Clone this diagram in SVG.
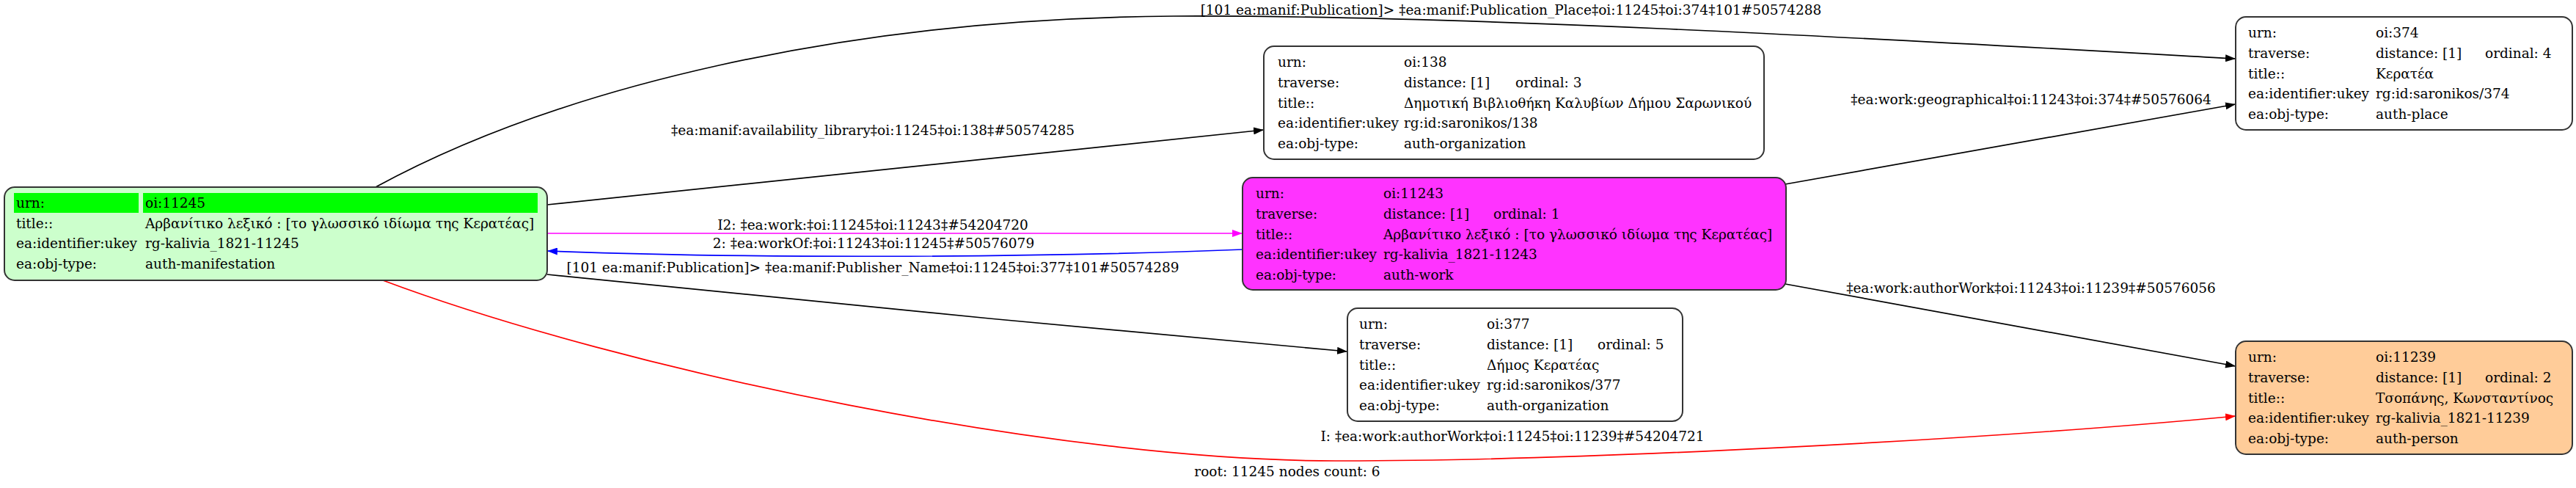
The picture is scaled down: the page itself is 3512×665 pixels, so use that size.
<svg xmlns="http://www.w3.org/2000/svg" width="3512" height="665" viewBox="0 0 3512 665">
<style>
text{font-family:"DejaVu Serif","Liberation Serif",serif;font-size:18.5px;fill:#000}
.lbl{text-anchor:middle}
.box{stroke:#333;stroke-width:2}
.e{fill:none;stroke-width:1.7}
</style>
<defs>
<marker id="ak" markerUnits="userSpaceOnUse" viewBox="0 0 14 10" markerWidth="14" markerHeight="10" refX="14" refY="5" orient="auto"><path d="M0,0L14,5L0,10z" fill="#000"/></marker>
<marker id="am" markerUnits="userSpaceOnUse" viewBox="0 0 14 10" markerWidth="14" markerHeight="10" refX="14" refY="5" orient="auto"><path d="M0,0L14,5L0,10z" fill="#ff00ff"/></marker>
<marker id="ab" markerUnits="userSpaceOnUse" viewBox="0 0 14 10" markerWidth="14" markerHeight="10" refX="14" refY="5" orient="auto"><path d="M0,0L14,5L0,10z" fill="#0000ff"/></marker>
<marker id="ar" markerUnits="userSpaceOnUse" viewBox="0 0 14 10" markerWidth="14" markerHeight="10" refX="14" refY="5" orient="auto"><path d="M0,0L14,5L0,10z" fill="#ff0000"/></marker>
</defs>
<rect width="3512" height="665" fill="#fff"/>
<g id="connectors">
<path class="e" stroke="#000" marker-end="url(#ak)" d="M512,255C760,120 1150,25 1600,22C2000,20 2600,55 3048,80"/>
<text class="lbl" x="2060" y="20">[101 ea:manif:Publication]&gt; ‡ea:manif:Publication_Place‡oi:11245‡oi:374‡101#50574288</text>
<path class="e" stroke="#000" marker-end="url(#ak)" d="M746,279L1723,177"/>
<text class="lbl" x="1190" y="184">‡ea:manif:availability_library‡oi:11245‡oi:138‡#50574285</text>
<path class="e" stroke="#ff00ff" marker-end="url(#am)" d="M746,318L1694,318"/>
<text class="lbl" x="1190" y="313">I2: ‡ea:work:‡oi:11245‡oi:11243‡#54204720</text>
<path class="e" stroke="#0000ff" marker-end="url(#ab)" d="M1694,340C1400,352 1000,352 746,342"/>
<text class="lbl" x="1191" y="338">2: ‡ea:workOf:‡oi:11243‡oi:11245‡#50576079</text>
<path class="e" stroke="#000" marker-end="url(#ak)" d="M746,374C1050,405 1500,450 1837,479"/>
<text class="lbl" x="1190" y="371">[101 ea:manif:Publication]&gt; ‡ea:manif:Publisher_Name‡oi:11245‡oi:377‡101#50574289</text>
<path class="e" stroke="#000" marker-end="url(#ak)" d="M2434,251L3048,142"/>
<text class="lbl" x="2769" y="142">‡ea:work:geographical‡oi:11243‡oi:374‡#50576064</text>
<path class="e" stroke="#000" marker-end="url(#ak)" d="M2434,387L3048,499"/>
<text class="lbl" x="2769" y="399">‡ea:work:authorWork‡oi:11243‡oi:11239‡#50576056</text>
<path class="e" stroke="#ff0000" marker-end="url(#ar)" d="M522,382C850,505 1450,630 1830,628C2150,628 2700,600 3048,567"/>
<text class="lbl" x="2062" y="601">I: ‡ea:work:authorWork‡oi:11245‡oi:11239‡#54204721</text>
</g>
<g id="n11245">
<rect class="box" x="6" y="255" width="740" height="127" rx="14" fill="#ccffcc"/>
<rect x="19" y="263" width="170" height="27" fill="#00ff00"/>
<rect x="195" y="263" width="538" height="27" fill="#00ff00"/>
<text x="22" y="283">urn:</text><text x="198" y="283">oi:11245</text>
<text x="22" y="311">title::</text><text x="198" y="311">Αρβανίτικο λεξικό : [το γλωσσικό ιδίωμα της Κερατέας]</text>
<text x="22" y="338">ea:identifier:ukey</text><text x="198" y="338">rg-kalivia_1821-11245</text>
<text x="22" y="366">ea:obj-type:</text><text x="198" y="366">auth-manifestation</text>
</g>
<g id="n11243">
<rect class="box" x="1694" y="242" width="741" height="153" rx="14" fill="#ff33ff"/>
<text x="1712" y="270">urn:</text><text x="1886" y="270">oi:11243</text>
<text x="1712" y="298">traverse:</text><text x="1886" y="298">distance: [1]<tspan x="2036">ordinal: 1</tspan></text>
<text x="1712" y="326">title::</text><text x="1886" y="326">Αρβανίτικο λεξικό : [το γλωσσικό ιδίωμα της Κερατέας]</text>
<text x="1712" y="353">ea:identifier:ukey</text><text x="1886" y="353">rg-kalivia_1821-11243</text>
<text x="1712" y="381">ea:obj-type:</text><text x="1886" y="381">auth-work</text>
</g>
<g id="n138">
<rect class="box" x="1723" y="63" width="682" height="154" rx="14" fill="#fff"/>
<text x="1742" y="91">urn:</text><text x="1914" y="91">oi:138</text>
<text x="1742" y="119">traverse:</text><text x="1914" y="119">distance: [1]<tspan x="2066">ordinal: 3</tspan></text>
<text x="1742" y="147">title::</text><text x="1914" y="147">Δημοτική Βιβλιοθήκη Καλυβίων Δήμου Σαρωνικού</text>
<text x="1742" y="174">ea:identifier:ukey</text><text x="1914" y="174">rg:id:saronikos/138</text>
<text x="1742" y="202">ea:obj-type:</text><text x="1914" y="202">auth-organization</text>
</g>
<g id="n377">
<rect class="box" x="1837" y="420" width="457" height="154" rx="14" fill="#fff"/>
<text x="1853" y="448">urn:</text><text x="2027" y="448">oi:377</text>
<text x="1853" y="476">traverse:</text><text x="2027" y="476">distance: [1]<tspan x="2178">ordinal: 5</tspan></text>
<text x="1853" y="504">title::</text><text x="2027" y="504">Δήμος Κερατέας</text>
<text x="1853" y="531">ea:identifier:ukey</text><text x="2027" y="531">rg:id:saronikos/377</text>
<text x="1853" y="559">ea:obj-type:</text><text x="2027" y="559">auth-organization</text>
</g>
<g id="n374">
<rect class="box" x="3048" y="23" width="459" height="154" rx="14" fill="#fff"/>
<text x="3065" y="51">urn:</text><text x="3239" y="51">oi:374</text>
<text x="3065" y="79">traverse:</text><text x="3239" y="79">distance: [1]<tspan x="3388">ordinal: 4</tspan></text>
<text x="3065" y="107">title::</text><text x="3239" y="107">Κερατέα</text>
<text x="3065" y="134">ea:identifier:ukey</text><text x="3239" y="134">rg:id:saronikos/374</text>
<text x="3065" y="162">ea:obj-type:</text><text x="3239" y="162">auth-place</text>
</g>
<g id="n11239">
<rect class="box" x="3048" y="465" width="459" height="154" rx="14" fill="#ffcc99"/>
<text x="3065" y="493">urn:</text><text x="3239" y="493">oi:11239</text>
<text x="3065" y="521">traverse:</text><text x="3239" y="521">distance: [1]<tspan x="3388">ordinal: 2</tspan></text>
<text x="3065" y="549">title::</text><text x="3239" y="549">Τσοπάνης, Κωνσταντίνος</text>
<text x="3065" y="576">ea:identifier:ukey</text><text x="3239" y="576">rg-kalivia_1821-11239</text>
<text x="3065" y="604">ea:obj-type:</text><text x="3239" y="604">auth-person</text>
</g>
<g id="graph-label">
<text class="lbl" x="1755" y="649">root: 11245 nodes count: 6</text>
</g>
</svg>
